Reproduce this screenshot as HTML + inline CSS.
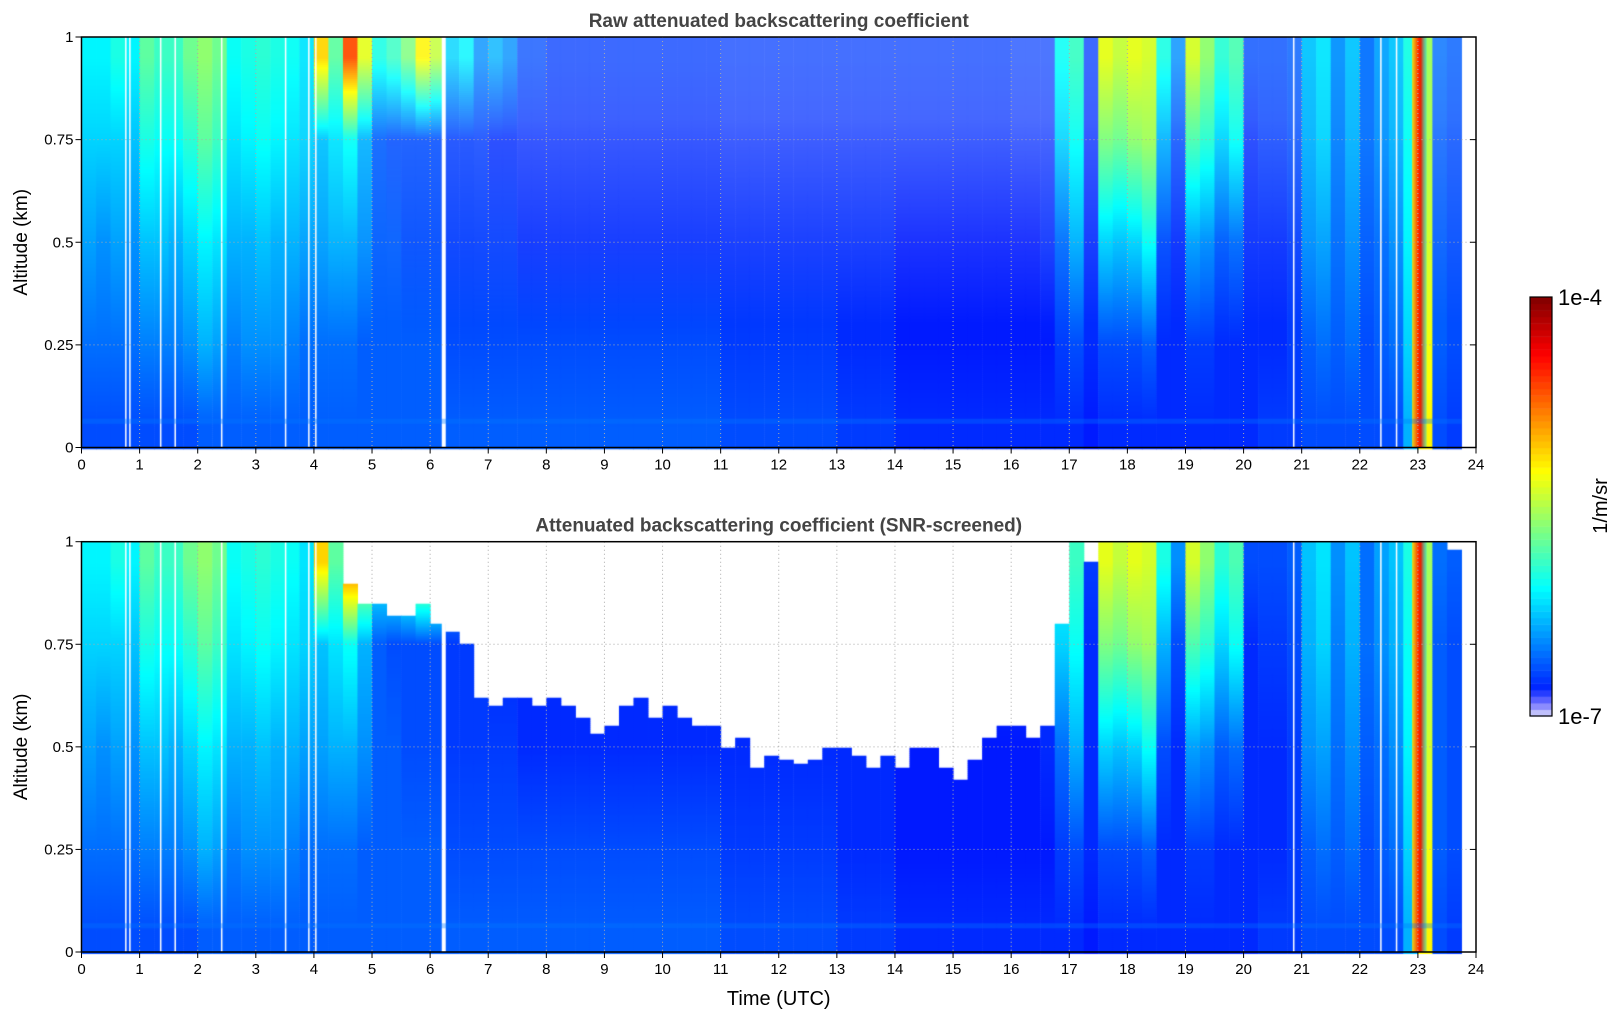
<!DOCTYPE html>
<html><head><meta charset="utf-8">
<style>
body{margin:0;background:#fff;width:1621px;height:1020px;overflow:hidden;font-family:"Liberation Sans","DejaVu Sans",sans-serif;}
#root{position:relative;width:1621px;height:1020px;}
canvas{position:absolute;left:0;top:0;}
</style></head>
<body>
<div id="root">
<canvas id="c" width="1621" height="1020"></canvas>
<svg id="s" width="1621" height="1020" style="position:absolute;left:0;top:0"></svg>
</div>
<script>
// ---- data (log10 of 1/m/sr), 15-min columns, profiles at altitudes ----
const altLevels = [0.05, 0.25, 0.5, 0.75, 0.95];
const hourTicks = [0,1,2,3,4,5,6,7,8,9,10,11,12,13,14,15,16,17,18,19,20,21,22,23,24];
const altTicks = [0,0.25,0.5,0.75,1];
const altTickLabels = ["0","0.25","0.5","0.75","1"];
const profiles = [
[-6.4,-6.3,-6.15,-6.0,-5.9],[-6.4,-6.3,-6.2,-6.0,-5.9],[-6.4,-6.3,-6.15,-6.0,-5.8],[-6.4,-6.3,-6.2,-6.05,-5.9],
[-6.4,-6.25,-6.05,-5.8,-5.6],[-6.4,-6.25,-6.05,-5.85,-5.7],[-6.4,-6.25,-6.1,-5.85,-5.7],[-6.4,-6.2,-6.0,-5.75,-5.55],
[-6.35,-6.1,-5.9,-5.6,-5.45],[-6.35,-6.15,-5.95,-5.7,-5.55],[-6.35,-6.25,-6.1,-5.95,-5.85],[-6.35,-6.2,-6.1,-5.9,-5.8],
[-6.35,-6.2,-6.05,-5.85,-5.75],[-6.35,-6.2,-6.1,-5.9,-5.8],[-6.35,-6.25,-6.1,-5.95,-5.85],[-6.35,-6.3,-6.15,-6.0,-5.95],
[-6.35,-6.3,-6.15,-6.05,-5.0],[-6.35,-6.3,-6.1,-5.95,-5.6],[-6.35,-6.3,-6.1,-5.85,-4.6],[-6.35,-6.35,-6.2,-6.1,-5.2],
[-6.35,-6.35,-6.35,-6.35,-5.8],[-6.35,-6.35,-6.35,-6.4,-5.7],[-6.35,-6.35,-6.4,-6.4,-5.5],[-6.35,-6.35,-6.4,-6.4,-5.1],
[-6.35,-6.35,-6.4,-6.4,-5.3],[-6.35,-6.4,-6.45,-6.45,-6.0],[-6.35,-6.4,-6.45,-6.45,-5.9],[-6.35,-6.4,-6.45,-6.45,-6.2],
[-6.35,-6.4,-6.45,-6.5,-6.1],[-6.35,-6.4,-6.45,-6.5,-6.2],[-6.35,-6.4,-6.5,-6.5,-6.4],[-6.35,-6.4,-6.5,-6.5,-6.4],
[-6.35,-6.4,-6.5,-6.5,-6.45],[-6.35,-6.4,-6.5,-6.5,-6.45],[-6.35,-6.4,-6.5,-6.5,-6.45],[-6.35,-6.4,-6.5,-6.5,-6.45],
[-6.35,-6.4,-6.5,-6.5,-6.45],[-6.35,-6.4,-6.5,-6.5,-6.45],[-6.35,-6.4,-6.5,-6.5,-6.45],[-6.35,-6.4,-6.5,-6.5,-6.45],
[-6.35,-6.4,-6.5,-6.5,-6.45],[-6.35,-6.4,-6.5,-6.5,-6.45],[-6.35,-6.4,-6.5,-6.5,-6.45],[-6.35,-6.4,-6.5,-6.5,-6.45],
[-6.4,-6.45,-6.5,-6.5,-6.45],[-6.4,-6.45,-6.5,-6.5,-6.45],[-6.4,-6.45,-6.5,-6.5,-6.45],[-6.4,-6.45,-6.5,-6.5,-6.45],
[-6.4,-6.45,-6.5,-6.5,-6.45],[-6.4,-6.45,-6.5,-6.5,-6.45],[-6.4,-6.45,-6.5,-6.5,-6.45],[-6.4,-6.45,-6.5,-6.5,-6.45],
[-6.45,-6.5,-6.5,-6.5,-6.45],[-6.45,-6.5,-6.5,-6.5,-6.45],[-6.45,-6.5,-6.5,-6.5,-6.45],[-6.45,-6.5,-6.5,-6.5,-6.45],
[-6.5,-6.55,-6.55,-6.5,-6.45],[-6.5,-6.55,-6.55,-6.5,-6.45],[-6.5,-6.55,-6.55,-6.5,-6.45],[-6.5,-6.55,-6.55,-6.5,-6.45],
[-6.5,-6.55,-6.55,-6.5,-6.45],[-6.5,-6.55,-6.55,-6.5,-6.45],[-6.5,-6.55,-6.55,-6.5,-6.45],[-6.5,-6.55,-6.55,-6.5,-6.45],
[-6.5,-6.55,-6.55,-6.5,-6.45],[-6.5,-6.55,-6.55,-6.5,-6.45],[-6.5,-6.55,-6.5,-6.5,-6.45],[-6.5,-6.45,-6.3,-6.0,-5.85],
[-6.5,-6.4,-6.1,-5.85,-5.7],[-6.55,-6.5,-6.5,-6.5,-6.45],[-6.5,-6.4,-6.0,-5.5,-5.2],[-6.5,-6.4,-6.05,-5.55,-5.3],
[-6.5,-6.4,-6.0,-5.45,-5.2],[-6.5,-6.35,-5.85,-5.4,-5.25],[-6.5,-6.5,-6.4,-6.1,-5.8],[-6.5,-6.5,-6.5,-6.4,-6.2],
[-6.5,-6.45,-6.15,-5.65,-5.25],[-6.5,-6.45,-6.2,-5.75,-5.45],[-6.5,-6.5,-6.35,-6.0,-5.75],[-6.5,-6.5,-6.3,-5.85,-5.65],
[-6.5,-6.5,-6.5,-6.5,-6.4],[-6.45,-6.5,-6.5,-6.45,-6.4],[-6.45,-6.5,-6.5,-6.45,-6.4],[-6.45,-6.45,-6.45,-6.4,-6.35],
[-6.4,-6.35,-6.2,-6.1,-6.05],[-6.4,-6.3,-6.15,-6.0,-5.95],[-6.4,-6.35,-6.3,-6.25,-6.2],[-6.4,-6.3,-6.2,-6.1,-6.05],
[-6.4,-6.4,-6.35,-6.3,-6.3],[-6.4,-6.35,-6.3,-6.2,-6.15],[-6.4,-6.3,-6.2,-6.1,-6.05],[-6.1,-6.0,-5.9,-5.85,-5.8],
[-5.1,-5.15,-5.25,-5.35,-5.4],[-6.4,-6.35,-6.35,-6.35,-6.3],[-6.45,-6.4,-6.4,-6.4,-6.35],null
];
// fraction of noisy (white) pixels in upper part of raw panel
const rawSpeckle = [
0,0,0,0, 0,0,0,0, 0,0,0,0, 0,0.01,0.03,0.06, 0.06,0.06,0.06,0.09, 0.12,0.15,0.15,0.15,
0.15,0.18,0.18,0.2, 0.2,0.2,0.24,0.24, 0.24,0.24,0.24,0.24, 0.24,0.24,0.24,0.24, 0.24,0.24,0.24,0.24,
0.27,0.27,0.27,0.27, 0.27,0.27,0.27,0.27, 0.27,0.27,0.27,0.27, 0.27,0.27,0.27,0.27,
0.27,0.27,0.27,0.27, 0.3,0.3,0.3,0.12, 0.06,0.24,0.03,0.03, 0.03,0.03,0.09,0.18,
0.03,0.03,0.06,0.06, 0.2,0.2,0.2,0.18, 0.06,0.06,0.06,0.06, 0.06,0.06,0.06,0.03, 0,0.18,0.18,0
];
// SNR-screening altitude (km) above which the screened panel is blank
const snrTop = [
1,1,1,1, 1,1,1,1, 1,1,1,1, 1,1,1,1, 1,1,0.9,0.85, 0.85,0.82,0.82,0.85,
0.8,0.78,0.75,0.62, 0.6,0.62,0.62,0.6, 0.62,0.6,0.57,0.53, 0.55,0.6,0.62,0.57,
0.6,0.57,0.55,0.55, 0.5,0.52,0.45,0.48, 0.47,0.46,0.47,0.5, 0.5,0.48,0.45,0.48,
0.45,0.5,0.5,0.45, 0.42,0.47,0.52,0.55, 0.55,0.52,0.55,0.8, 1,0.95,1,1,
1,1,1,1, 1,1,1,1, 1,1,1,1, 1,1,1,1, 1,1,1,1, 1,1,0.98,0
];
const gapHours = [0.75,0.82,1.35,1.6,2.4,3.5,3.9,4.02,20.85,22.35,22.62];

// ---- geometry ----
const X0=81.5, X1=1476;
const panels=[{top:37,bot:447.5,title:"Raw attenuated backscattering coefficient",screen:false,name:"raw-panel"},
              {top:541.7,bot:952,title:"Attenuated backscattering coefficient (SNR-screened)",screen:true,name:"screened-panel"}];
const VMIN=-7,VMAX=-4;
function xs(h){return X0+(X1-X0)*h/24;}
function ys(p,a){return p.bot-(p.bot-p.top)*a;}
function jet(t){
  t=Math.max(0,Math.min(1,t));
  const c=v=>Math.round(255*Math.max(0,Math.min(1,v)));
  return [c(1.5-Math.abs(4*t-3)),c(1.5-Math.abs(4*t-2)),c(1.5-Math.abs(4*t-1))];
}
function valAt(pr,a){
  if(a<=altLevels[0])return pr[0];
  for(let i=0;i<altLevels.length-1;i++){
    if(a<=altLevels[i+1]){const f=(a-altLevels[i])/(altLevels[i+1]-altLevels[i]);return pr[i]+f*(pr[i+1]-pr[i]);}
  }
  return pr[pr.length-1];
}
const ctx=document.getElementById('c').getContext('2d');
ctx.fillStyle='#fff';ctx.fillRect(0,0,1621,1020);
panels.forEach(p=>{
  const step=2;
  for(let i=0;i<profiles.length;i++){
    const pr=profiles[i]; if(!pr)continue;
    const xa=xs(i*0.25), xb=xs((i+1)*0.25);
    for(let y=p.top;y<p.bot;y+=step){
      const a=(p.bot-(y+step/2))/(p.bot-p.top);
      if(p.screen && a>snrTop[i])continue;
      let col=jet((valAt(pr,a)-VMIN)/(VMAX-VMIN));
      if(!p.screen){
        const f=Math.max(0,Math.min(1,(a-0.3)/0.5))*rawSpeckle[i];
        col=col.map(v=>Math.round(v+(255-v)*f));
      }
      ctx.fillStyle=`rgb(${col[0]},${col[1]},${col[2]})`;
      ctx.fillRect(xa,y,xb-xa+0.5,step+0.3);
    }
  }
  // narrow intense layer near 23 UTC
  const g=ctx.createLinearGradient(xs(22.9),0,xs(23.15),0);
  g.addColorStop(0,'rgba(255,220,0,0.9)');g.addColorStop(0.45,'rgba(255,40,0,1)');g.addColorStop(0.6,'rgba(230,30,0,1)');g.addColorStop(1,'rgba(0,200,255,0.4)');
  ctx.fillStyle=g;ctx.fillRect(xs(22.9),p.top,xs(23.15)-xs(22.9),p.bot-p.top);
  ctx.fillStyle='#fff';
  gapHours.forEach(gh=>ctx.fillRect(xs(gh),p.top,1.5,p.bot-p.top));
  ctx.fillRect(xs(6.2),p.top,4,p.bot-p.top);
  ctx.fillStyle='rgba(0,120,255,0.35)';
  ctx.fillRect(X0,ys(p,0.07),xs(23.75)-X0,5);
});
// colorbar
const CB={x:1530,w:22,top:297,bot:716};
const nb=64;
for(let k=0;k<nb;k++){
  const t=(k+0.5)/nb;let col=jet(0.1+0.9*t);
  if(k<4){const w=[0.75,0.55,0.35,0.15][k];col=col.map(v=>Math.round(v+(255-v)*w));}
  ctx.fillStyle=`rgb(${col[0]},${col[1]},${col[2]})`;
  const y0=CB.bot-(k+1)*(CB.bot-CB.top)/nb;
  ctx.fillRect(CB.x,y0,CB.w,(CB.bot-CB.top)/nb+0.5);
}

// ---- SVG overlay: axes, ticks, labels ----
const svg=document.getElementById('s');
const NS='http://www.w3.org/2000/svg';
function el(tag,attrs,parent){const e=document.createElementNS(NS,tag);for(const k in attrs)e.setAttribute(k,attrs[k]);(parent||svg).appendChild(e);return e;}
panels.forEach((p,pi)=>{
  const g=el('g',{});
  
  
  hourTicks.forEach(h=>{
    if(h>0&&h<24)el('line',{x1:xs(h),x2:xs(h),y1:p.top,y2:p.bot,stroke:'#aaa','stroke-width':1,'stroke-dasharray':'1,3'},g);
    el('line',{x1:xs(h),x2:xs(h),y1:p.bot,y2:p.bot+6,stroke:'#000','stroke-width':1},g);
    const t=el('text',{x:xs(h),y:p.bot+22,'text-anchor':'middle','font-size':15,fill:'#000'},g);t.textContent=h;
    
    
  });
  altTicks.forEach((a,k)=>{
    if(a>0&&a<1)el('line',{x1:X0,x2:X1,y1:ys(p,a),y2:ys(p,a),stroke:'#aaa','stroke-width':1,'stroke-dasharray':'1,3'},g);
    el('line',{x1:X0-6,x2:X0,y1:ys(p,a),y2:ys(p,a),stroke:'#000'},g);
    el('line',{x1:X1-6,x2:X1,y1:ys(p,a),y2:ys(p,a),stroke:'#000'},g);
    const t=el('text',{x:X0-8,y:ys(p,a)+5,'text-anchor':'end','font-size':15,fill:'#000'},g);t.textContent=altTickLabels[k];
    
    
  });
  el('rect',{x:X0,y:p.top,width:X1-X0,height:p.bot-p.top,fill:'none',stroke:'#000','stroke-width':1.5},g);
  const tt=el('text',{x:(X0+X1)/2,y:p.top-10,'text-anchor':'middle','font-size':19,'font-weight':'bold',fill:'#444'},g);tt.textContent=p.title;
  
  
  const yl=el('text',{x:0,y:0,'text-anchor':'middle','font-size':19,fill:'#000',transform:`translate(27,${(p.top+p.bot)/2}) rotate(-90)`},g);yl.textContent='Altitude (km)';
  
  
});
const xl=el('text',{x:(X0+X1)/2,y:1005,'text-anchor':'middle','font-size':20,fill:'#000'});xl.textContent='Time (UTC)';


const cb=el('rect',{x:CB.x,y:CB.top,width:CB.w,height:CB.bot-CB.top,fill:'none',stroke:'#000','stroke-width':1.2});


const l1=el('text',{x:1558,y:305,'font-size':22,fill:'#000'});l1.textContent='1e-4';


const l2=el('text',{x:1558,y:724,'font-size':22,fill:'#000'});l2.textContent='1e-7';


const cu=el('text',{x:0,y:0,'text-anchor':'middle','font-size':20,fill:'#000',transform:'translate(1607,506) rotate(-90)'});cu.textContent='1/m/sr';


</script>
</body></html>
